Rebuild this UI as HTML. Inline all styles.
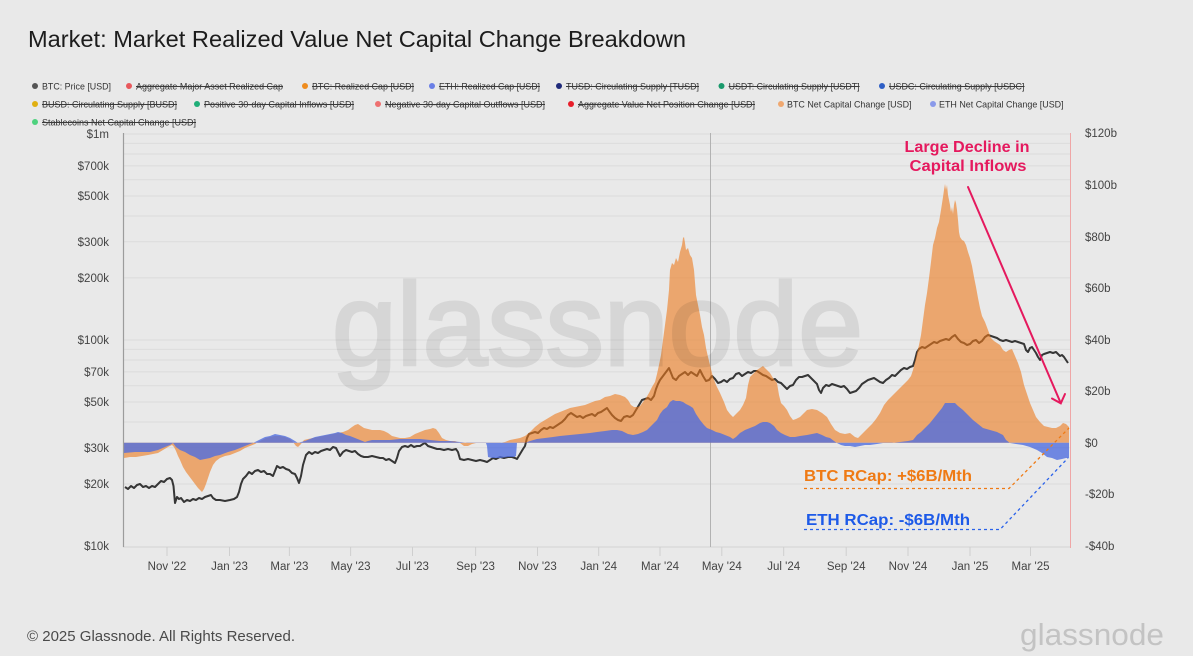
<!DOCTYPE html>
<html>
<head>
<meta charset="utf-8">
<style>
html,body{margin:0;padding:0;background:#e9e9e9;}
body{width:1193px;height:656px;overflow:hidden;}
svg{display:block;font-family:"Liberation Sans",Arial,sans-serif;}
</style>
</head>
<body>
<svg width="1193" height="656" viewBox="0 0 1193 656" xmlns="http://www.w3.org/2000/svg">
<rect x="0" y="0" width="1193" height="656" fill="#e9e9e9"/>

<!-- Title -->
<text x="28" y="47" font-size="23" fill="#1c1c1c" textLength="658" lengthAdjust="spacingAndGlyphs">Market: Market Realized Value Net Capital Change Breakdown</text>

<!-- Legend -->
<g font-size="9.5" fill="#333">
  <circle cx="35" cy="86" r="3" fill="#555"/>
  <text x="42" y="89.5" textLength="69" lengthAdjust="spacingAndGlyphs">BTC: Price [USD]</text>
  <circle cx="129" cy="86" r="3" fill="#e8585c"/>
  <text x="136" y="89.5" textLength="147" lengthAdjust="spacingAndGlyphs">Aggregate Major Asset Realized Cap</text>
  <circle cx="305" cy="86" r="3" fill="#ef8c1e"/>
  <text x="312" y="89.5" textLength="102" lengthAdjust="spacingAndGlyphs">BTC: Realized Cap [USD]</text>
  <circle cx="432" cy="86" r="3" fill="#6a7fe6"/>
  <text x="439" y="89.5" textLength="101" lengthAdjust="spacingAndGlyphs">ETH: Realized Cap [USD]</text>
  <circle cx="559" cy="86" r="3" fill="#1f2a7a"/>
  <text x="566" y="89.5" textLength="133" lengthAdjust="spacingAndGlyphs">TUSD: Circulating Supply [TUSD]</text>
  <circle cx="721.5" cy="86" r="3" fill="#1a9a6c"/>
  <text x="728.6" y="89.5" textLength="131" lengthAdjust="spacingAndGlyphs">USDT: Circulating Supply [USDT]</text>
  <circle cx="882" cy="86" r="3" fill="#2f5fc6"/>
  <text x="889" y="89.5" textLength="135.5" lengthAdjust="spacingAndGlyphs">USDC: Circulating Supply [USDC]</text>

  <circle cx="35" cy="104" r="3" fill="#e0b012"/>
  <text x="42" y="107.5" textLength="135" lengthAdjust="spacingAndGlyphs">BUSD: Circulating Supply [BUSD]</text>
  <circle cx="197" cy="104" r="3" fill="#1fae78"/>
  <text x="204" y="107.5" textLength="150" lengthAdjust="spacingAndGlyphs">Positive 30-day Capital Inflows [USD]</text>
  <circle cx="378" cy="104" r="3" fill="#ee7070"/>
  <text x="385" y="107.5" textLength="160" lengthAdjust="spacingAndGlyphs">Negative 30-day Capital Outflows [USD]</text>
  <circle cx="571" cy="104" r="3" fill="#e81e2a"/>
  <text x="578" y="107.5" textLength="177" lengthAdjust="spacingAndGlyphs">Aggregate Value Net Position Change [USD]</text>
  <circle cx="781" cy="104" r="3" fill="#f0a870"/>
  <text x="787" y="107.5" textLength="124.5" lengthAdjust="spacingAndGlyphs">BTC Net Capital Change [USD]</text>
  <circle cx="933" cy="104" r="3" fill="#8a9aea"/>
  <text x="939" y="107.5" textLength="124.6" lengthAdjust="spacingAndGlyphs">ETH Net Capital Change [USD]</text>

  <circle cx="35" cy="122" r="3" fill="#4ed27e"/>
  <text x="42" y="125.5" textLength="154" lengthAdjust="spacingAndGlyphs">Stablecoins Net Capital Change [USD]</text>
</g>
<!-- strike lines -->
<g stroke="#3a3a3a" stroke-width="0.9">
  <line x1="136" y1="86.5" x2="283" y2="86.5"/>
  <line x1="312" y1="86.5" x2="414" y2="86.5"/>
  <line x1="439" y1="86.5" x2="540" y2="86.5"/>
  <line x1="566" y1="86.5" x2="699" y2="86.5"/>
  <line x1="728.6" y1="86.5" x2="859.6" y2="86.5"/>
  <line x1="889" y1="86.5" x2="1024.5" y2="86.5"/>
  <line x1="42" y1="104.5" x2="177" y2="104.5"/>
  <line x1="204" y1="104.5" x2="354" y2="104.5"/>
  <line x1="385" y1="104.5" x2="545" y2="104.5"/>
  <line x1="578" y1="104.5" x2="755" y2="104.5"/>
  <line x1="42" y1="122.5" x2="196" y2="122.5"/>
</g>

<!-- Gridlines -->
<g stroke="#dcdcdc" stroke-width="1">
  <line x1="124" y1="134" x2="1070" y2="134"/>
  <line x1="124" y1="143.4" x2="1070" y2="143.4"/>
  <line x1="124" y1="154" x2="1070" y2="154"/>
  <line x1="124" y1="165.9" x2="1070" y2="165.9"/>
  <line x1="124" y1="179.7" x2="1070" y2="179.7"/>
  <line x1="124" y1="196" x2="1070" y2="196"/>
  <line x1="124" y1="216" x2="1070" y2="216"/>
  <line x1="124" y1="241.7" x2="1070" y2="241.7"/>
  <line x1="124" y1="277.9" x2="1070" y2="277.9"/>
  <line x1="124" y1="340" x2="1070" y2="340"/>
  <line x1="124" y1="349.4" x2="1070" y2="349.4"/>
  <line x1="124" y1="360" x2="1070" y2="360"/>
  <line x1="124" y1="371.9" x2="1070" y2="371.9"/>
  <line x1="124" y1="385.7" x2="1070" y2="385.7"/>
  <line x1="124" y1="402" x2="1070" y2="402"/>
  <line x1="124" y1="422" x2="1070" y2="422"/>
  <line x1="124" y1="447.7" x2="1070" y2="447.7"/>
  <line x1="124" y1="484" x2="1070" y2="484"/>
</g>
<line x1="123" y1="547" x2="1071" y2="547" stroke="#d2d2d2" stroke-width="1"/>

<!-- X ticks -->
<g stroke="#cfcfcf" stroke-width="1">
  <line x1="167" y1="547" x2="167" y2="556"/>
  <line x1="229.5" y1="547" x2="229.5" y2="556"/>
  <line x1="289.4" y1="547" x2="289.4" y2="556"/>
  <line x1="350.6" y1="547" x2="350.6" y2="556"/>
  <line x1="412.5" y1="547" x2="412.5" y2="556"/>
  <line x1="475.6" y1="547" x2="475.6" y2="556"/>
  <line x1="537.5" y1="547" x2="537.5" y2="556"/>
  <line x1="598.7" y1="547" x2="598.7" y2="556"/>
  <line x1="660" y1="547" x2="660" y2="556"/>
  <line x1="721.8" y1="547" x2="721.8" y2="556"/>
  <line x1="783.7" y1="547" x2="783.7" y2="556"/>
  <line x1="846.2" y1="547" x2="846.2" y2="556"/>
  <line x1="908" y1="547" x2="908" y2="556"/>
  <line x1="970" y1="547" x2="970" y2="556"/>
  <line x1="1030.5" y1="547" x2="1030.5" y2="556"/>
</g>
<g font-size="11.5" fill="#444" text-anchor="middle">
  <text x="167" y="570">Nov '22</text>
  <text x="229.5" y="570">Jan '23</text>
  <text x="289.4" y="570">Mar '23</text>
  <text x="350.6" y="570">May '23</text>
  <text x="412.5" y="570">Jul '23</text>
  <text x="475.6" y="570">Sep '23</text>
  <text x="537.5" y="570">Nov '23</text>
  <text x="598.7" y="570">Jan '24</text>
  <text x="660" y="570">Mar '24</text>
  <text x="721.8" y="570">May '24</text>
  <text x="783.7" y="570">Jul '24</text>
  <text x="846.2" y="570">Sep '24</text>
  <text x="908" y="570">Nov '24</text>
  <text x="970" y="570">Jan '25</text>
  <text x="1030.5" y="570">Mar '25</text>
</g>

<!-- Left axis labels -->
<g font-size="11.5" fill="#444" text-anchor="end">
  <text x="109" y="138">$1m</text>
  <text x="109" y="170">$700k</text>
  <text x="109" y="200">$500k</text>
  <text x="109" y="246">$300k</text>
  <text x="109" y="282">$200k</text>
  <text x="109" y="344">$100k</text>
  <text x="109" y="376">$70k</text>
  <text x="109" y="406">$50k</text>
  <text x="109" y="452">$30k</text>
  <text x="109" y="488">$20k</text>
  <text x="109" y="550">$10k</text>
</g>
<!-- Right axis labels -->
<g font-size="11.5" fill="#444">
  <text x="1085" y="137">$120b</text>
  <text x="1085" y="189">$100b</text>
  <text x="1085" y="241">$80b</text>
  <text x="1085" y="292">$60b</text>
  <text x="1085" y="344">$40b</text>
  <text x="1085" y="395">$20b</text>
  <text x="1085" y="447">$0</text>
  <text x="1085" y="498">-$20b</text>
  <text x="1085" y="550">-$40b</text>
</g>

<!-- halving line -->
<line x1="710.5" y1="133" x2="710.5" y2="547" stroke="#b2b2b2" stroke-width="1"/>

<!-- BTC price -->
<polyline fill="none" stroke="#363636" stroke-width="2" stroke-linejoin="round" points="125,487 128,489 131,486 134,488 137,485 140,484 143,487 146,486 149,488 152,486 155,487 158,484 161,481 164,482 167,479 170,478 172,480 173.5,486 175,503 177,497 179,499 181,498 184,502 187,500 190,501 193,499 196,500 199,498 202,499 205,497 208,496 211,495 213,498 216,500 220,500 225,501 230,500 234,499 237,497 239,492 241,484 243,479 246,476 249,472 252,474 255,471 258,470 261,472 264,471 267,474 270,474 273,476 275,471 277,466 280,468 283,467 286,469 289,470 292,473 295,474 297,478 299,483 301,476 303,465 306,455 309,452 312,454 315,452 318,453 321,451 324,450 327,449 330,450 333,447 336,448 338,452 340,456 343,452 346,450 349,451 352,452 355,451 358,454 361,456 364,457 368,457 372,456 376,457 380,458 383,458 386,460 389,459 392,461 395,463 397,458 399,451 402,447 405,446 408,447 411,445 414,447 417,446 420,446 423,444 425,443 428,446 431,447 434,448 437,449 440,449 444,450 448,449 452,450 456,449 458,452 460,459 464,460 468,459 472,460 476,461 480,460 484,461 487,462 490,460 493,458 496,459 500,457 504,458 508,457 512,457 515,458 517,459 520,454 523,449 525,446 527,438 529,434 532,433 535,432 538,433 541,430 544,428 547,429 550,427 553,428 556,426 559,424 562,422 565,419 568,415 571,413 574,415 577,417 580,416 583,418 586,416 589,415 592,414 595,416 598,413 601,412 604,410 607,408 609,411 612,415 615,418 618,420 621,421 624,417 627,416 630,417 633,415 636,410 639,405 642,400 645,399 648,398 651,400 654,396 656,389 658,384 660,380 663,376 666,372 669,368 671,373 673,378 676,380 679,376 682,374 685,372 688,375 691,372 694,374 697,376 700,370 703,376 706,381 709,380 712,376 715,379 718,383 721,382 724,380 727,382 730,379 733,378 736,374 739,373 742,376 745,374 748,372 751,373 754,371 757,371 760,373 763,375 766,376 769,378 772,380 775,379 778,382 781,383 784,386 787,389 790,386 793,385 796,380 799,377 802,377 805,376 808,375 811,378 814,381 817,384 819,390 821,393 823,388 826,385 829,386 832,384 835,385 838,386 841,387 844,386 847,389 850,393 853,392 856,391 859,388 862,384 865,382 868,380 871,379 874,378 877,380 880,382 883,383 886,380 889,378 892,375 895,376 898,373 901,370 904,368 907,369 910,367 913,366 915,360 917,352 919,349 922,347 925,348 928,346 931,344 934,342 937,343 940,341 943,340 946,339 949,340 952,337 955,335 958,339 961,342 964,343 967,345 970,344 973,341 976,340 979,343 982,341 985,337 988,335 991,336 994,337 997,338 1000,340 1003,341 1006,340 1009,341 1012,342 1015,341 1018,342 1021,343 1024,344 1026,350 1028,352 1030,348 1032,347 1034,350 1036,353 1038,357 1040,360 1042,355 1044,354 1047,353 1050,352 1053,353 1056,352 1058,354 1060,356 1062,355 1064,357 1066,360 1068,363"/>

<!-- BTC Net Capital Change (orange area) -->
<path fill="#ed7a1c" fill-opacity="0.6" d="M124,442.7 L124,458 130,457 136,457 142,456 148,455 153,454 158,453 163,450 168,447 172,445 174,447 176,451 178,456 180,460 183,467 186,472 189,476 192,480 195,484 198,488 200,490 202,492 204,489 206,484 208,478 210,472 213,465 216,461 220,458 225,456 230,455 235,453 240,451 245,448 250,446 255,444 258,442 262,440 266,438 270,437 275,436 280,436 285,437 290,439 293,442 296,446 298,447 301,444 304,440 308,439 313,438 318,437 323,436 328,435 333,434 338,433 343,432 348,430 352,427 355,425 358,424 361,426 364,428 368,429 372,430 376,430 380,430 384,431 388,433 392,436 396,437 400,438 405,438 410,437 415,434 420,432 425,430 430,429 433,428 436,429 439,433 442,438 446,440 450,441 455,441 460,443 464,446 468,446 472,444 476,443 500,443 505,442 510,440 515,439 520,438 525,436 530,432 535,427 540,423 545,420 550,417 555,414 560,412 565,410 570,408 575,407 580,406 585,405 590,403 595,401 600,400 605,397 610,396 615,394 620,395 625,397 628,400 631,405 634,407 637,407 640,406 643,402 646,398 649,393 652,387 655,382 657,374 659,365 661,355 663,340 665,325 667,310 669,290 670,270 672,263 674,265 676,258 678,262 680,252 682,245 683,238 684,237 685,243 686,250 688,248 690,255 692,258 694,270 696,295 698,305 700,315 702,327 704,335 706,348 708,357 710,365 713,377 716,385 720,393 724,402 727,410 730,414 733,417 736,414 740,410 743,405 746,398 748,385 750,377 753,374 757,370 760,368 763,366 766,369 770,373 773,378 777,383 779,395 781,403 784,406 787,410 790,416 793,420 796,419 800,417 804,413 807,410 812,409 817,410 822,413 827,417 831,424 835,430 840,433 845,434 850,433 855,437 858,438 861,435 864,432 868,428 872,424 876,419 880,413 884,405 888,400 892,396 896,392 900,388 904,384 908,380 911,376 913,370 915,362 917,353 919,345 921,335 923,320 925,305 927,293 929,278 931,262 933,245 935,238 937,228 939,222 941,210 943,197 944,190 945,184 946,190 947,185 948,195 949,200 950,205 951,212 952,207 953,214 954,205 955,200 956,203 957,210 958,220 959,232 960,237 962,240 964,241 966,245 968,252 970,258 972,266 974,277 976,287 978,298 980,308 982,316 985,322 988,330 991,338 994,341 997,343 1000,345 1003,350 1006,352 1009,350 1012,349 1015,356 1018,363 1021,372 1024,385 1027,394 1030,403 1033,410 1036,417 1040,422 1044,426 1048,427 1052,428 1056,428 1060,426 1063,423 1066,424 1069,427 L1069,442.7 Z"/>

<!-- ETH Net Capital Change (blue area) -->
<path fill="#506ede" fill-opacity="0.8" d="M124,442.7 L124,453 135,452 150,452 158,450 165,447 170,445 173,443 176,447 180,450 185,452 190,455 195,457 200,460 205,459 210,458 215,456 220,455 228,452 235,450 240,448 245,446 250,444 253,443 257,441 261,439 265,437 270,436 275,434 280,435 285,436 290,438 295,441 298,443 301,442 305,441 310,439 315,437 320,436 325,435 330,434 335,433 338,432 342,433 346,435 350,436 355,438 360,440 365,442 368,441 372,440 380,440 390,440 400,439 410,439 420,439 430,440 440,441 450,441 460,442 467,443 486,443 487,446 488,457 492,458 500,458 508,457 514,457 516,456 517,443 525,443 530,441 537,439 545,438 553,437 560,436 570,435 580,434 590,433 597,432 605,431 612,430 617,430 622,431 628,434 633,435 638,434 643,432 647,430 650,427 653,424 657,420 660,414 663,410 667,407 670,402 673,400 676,401 680,401 683,402 686,404 690,406 693,408 696,414 700,420 704,425 707,428 712,430 716,432 720,433 725,435 730,437 733,439 736,437 740,433 745,430 750,428 755,426 760,423 763,422 767,422 770,423 774,426 777,430 781,433 785,435 790,437 795,437 800,436 807,435 812,434 817,433 822,435 826,437 830,438 834,441 837,443 841,445 845,446 850,446 855,447 860,446 865,445 870,445 877,444 883,443 892,443 900,442 908,441 913,440 917,435 921,432 925,428 930,423 934,418 938,413 942,408 945,403 950,403 955,403 958,406 963,410 968,415 973,420 978,424 983,428 990,430 997,432 1003,435 1006,440 1010,443 1016,444 1023,445 1030,447 1037,450 1042,453 1047,457 1052,458 1057,460 1062,459 1066,458 1069,458 L1069,442.7 Z"/>

<!-- axes lines -->
<line x1="123.5" y1="133" x2="123.5" y2="547" stroke="#9c9c9c" stroke-width="1.2"/>
<line x1="1070.5" y1="133" x2="1070.5" y2="548" stroke="#efa6a6" stroke-width="1"/>

<!-- watermark -->
<g opacity="0.075">
<text x="332" y="365" font-size="117" fill="#000" stroke="#000" stroke-width="3" textLength="531" lengthAdjust="spacingAndGlyphs">glassnode</text>
</g>

<!-- Annotation: Large decline -->
<g font-weight="bold" font-size="16" fill="#e5195e" text-anchor="middle">
  <text x="967" y="152" textLength="125" lengthAdjust="spacingAndGlyphs">Large Decline in</text>
  <text x="968" y="171" textLength="117" lengthAdjust="spacingAndGlyphs">Capital Inflows</text>
</g>
<g stroke="#e5195e" stroke-width="2" fill="none" stroke-linecap="round">
  <line x1="968" y1="187" x2="1060.5" y2="402.5"/>
  <polyline points="1052,398.5 1060.8,403.3 1065,394"/>
</g>

<!-- BTC RCap annotation -->
<text x="804" y="481" font-weight="bold" font-size="16" fill="#ef7a14" textLength="168" lengthAdjust="spacingAndGlyphs">BTC RCap: +$6B/Mth</text>
<polyline points="804,488.5 1009,488.5 1069,428" fill="none" stroke="#ef7a14" stroke-width="1.3" stroke-dasharray="3,3"/>

<!-- ETH RCap annotation -->
<text x="806" y="525" font-weight="bold" font-size="16" fill="#1d5ae8" textLength="164" lengthAdjust="spacingAndGlyphs">ETH RCap: -$6B/Mth</text>
<polyline points="804,529.5 1000,529.5 1068,458" fill="none" stroke="#2a62ea" stroke-width="1.3" stroke-dasharray="3,3"/>

<!-- Footer -->
<text x="27" y="641" font-size="14.5" fill="#4a4a4a" textLength="268" lengthAdjust="spacingAndGlyphs">© 2025 Glassnode. All Rights Reserved.</text>
<text x="1020" y="645" font-size="31" fill="#c3c3c3" textLength="144" lengthAdjust="spacingAndGlyphs">glassnode</text>
</svg>
</body>
</html>
